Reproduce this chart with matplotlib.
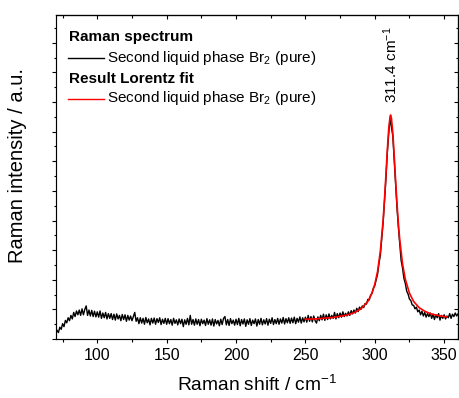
import matplotlib
matplotlib.use("Agg")
import matplotlib.pyplot as plt
from matplotlib.ticker import MultipleLocator, NullFormatter
import numpy as np

plt.rcParams["font.family"] = ["Liberation Sans", "DejaVu Sans"]
plt.rcParams["mathtext.default"] = "regular"

# measured Raman spectrum, one value per cm-1 from 70 to 360
shift_start = 70
spectrum = [
    0.15, 0.30, 0.22, 0.40, 0.33, 0.52, 0.42, 0.63, 0.55, 0.72,
    0.62, 0.80, 0.68, 0.90, 0.76, 0.95, 0.82, 0.98, 0.80, 1.02,
    0.82, 1.00, 1.12, 0.80, 0.98, 0.78, 0.97, 0.76, 0.94, 0.75,
    0.92, 0.74, 0.95, 0.70, 0.88, 0.72, 0.90, 0.68, 0.86, 0.70,
    0.86, 0.66, 0.84, 0.64, 0.85, 0.68, 0.80, 0.62, 0.83, 0.66,
    0.82, 0.60, 0.80, 0.64, 0.78, 0.62, 0.76, 0.90, 0.60, 0.72,
    0.52, 0.72, 0.54, 0.70, 0.50, 0.73, 0.55, 0.68, 0.48, 0.70,
    0.54, 0.71, 0.50, 0.69, 0.56, 0.72, 0.49, 0.67, 0.53, 0.70,
    0.50, 0.69, 0.52, 0.66, 0.47, 0.70, 0.53, 0.65, 0.48, 0.68,
    0.52, 0.67, 0.42, 0.65, 0.50, 0.70, 0.48, 0.80, 0.50, 0.66,
    0.47, 0.68, 0.50, 0.66, 0.45, 0.67, 0.52, 0.64, 0.46, 0.69,
    0.50, 0.65, 0.47, 0.68, 0.44, 0.66, 0.51, 0.63, 0.45, 0.67,
    0.49, 0.70, 0.76, 0.48, 0.66, 0.46, 0.69, 0.52, 0.64, 0.47,
    0.67, 0.49, 0.70, 0.45, 0.66, 0.51, 0.68, 0.43, 0.65, 0.50,
    0.69, 0.46, 0.64, 0.52, 0.68, 0.44, 0.66, 0.50, 0.70, 0.48,
    0.65, 0.51, 0.69, 0.47, 0.67, 0.53, 0.72, 0.49, 0.66, 0.52,
    0.70, 0.50, 0.68, 0.54, 0.73, 0.51, 0.69, 0.55, 0.72, 0.53,
    0.71, 0.55, 0.74, 0.52, 0.70, 0.57, 0.75, 0.54, 0.72, 0.58,
    0.74, 0.57, 0.80, 0.60, 0.76, 0.58, 0.78, 0.62, 0.54, 0.75,
    0.62, 0.80, 0.65, 0.84, 0.63, 0.82, 0.66, 0.85, 0.68, 0.80,
    0.70, 0.90, 0.68, 0.86, 0.72, 0.88, 0.74, 0.92, 0.76, 0.87,
    0.78, 0.92, 0.80, 0.96, 0.85, 0.98, 0.88, 1.04, 0.93, 1.08,
    1.00, 1.12, 1.06, 1.20, 1.18, 1.34, 1.32, 1.48, 1.55, 1.72,
    1.80, 2.00, 2.18, 2.55, 2.82, 3.35, 3.92, 4.65, 5.38, 6.25,
    6.90, 7.45, 7.15, 6.85, 6.05, 5.30, 4.45, 3.78, 3.20, 2.65,
    2.40, 2.05, 1.88, 1.62, 1.52, 1.35, 1.30, 1.15, 1.14, 1.02,
    1.08, 0.92, 0.98, 0.82, 0.94, 0.78, 0.90, 0.74, 0.86, 0.76,
    0.88, 0.70, 0.84, 0.66, 0.82, 0.72, 0.86, 0.64, 0.80, 0.70,
    0.82, 0.68, 0.78, 0.72, 0.86, 0.70, 0.84, 0.76, 0.88, 0.78, 0.85,
]
shift = np.arange(shift_start, shift_start + len(spectrum))

# Lorentz fit curve
fit_shift = [250, 260, 270, 280, 285, 290, 295, 298, 300, 302, 304, 306, 307,
             308, 309, 310, 311, 311.4, 312, 313, 314, 315, 316, 317, 318, 320,
             322, 325, 328, 332, 336, 340, 345, 350, 352]
fit_value = [0.67, 0.69, 0.73, 0.81, 0.89, 1.02, 1.27, 1.55, 1.85, 2.28, 2.96,
             4.00, 4.70, 5.51, 6.35, 7.07, 7.50, 7.56, 7.45, 6.96, 6.20, 5.36,
             4.58, 3.90, 3.35, 2.54, 2.02, 1.55, 1.27, 1.06, 0.94, 0.86, 0.80,
             0.76, 0.75]

peak_pos = 311.4
peak_label = "311.4 cm$^{-1}$"
sample_label = "Second liquid phase Br$_2$ (pure)"

fig = plt.figure(figsize=(4.6, 3.98), dpi=100)
ax = fig.add_axes([0.121, 0.148, 0.8747, 0.814])

ax.plot(shift, spectrum, color="black", lw=1.0)
ax.plot(fit_shift, fit_value, color="#ff0000", lw=1.2)

ax.set_xlim(70, 360)
ax.set_ylim(0, 10.93)

ax.xaxis.set_major_locator(MultipleLocator(50))
ax.xaxis.set_minor_locator(MultipleLocator(25))
ax.yaxis.set_major_locator(MultipleLocator(1))
ax.yaxis.set_minor_locator(MultipleLocator(0.5))
ax.yaxis.set_major_formatter(NullFormatter())
ax.tick_params(which="major", direction="out", length=3.2, width=0.8, labelsize=11.5)
ax.tick_params(which="minor", direction="out", length=1.8, width=0.8)
for sp in ax.spines.values():
    sp.set_linewidth(0.85)

top = ax.secondary_xaxis("top")
top.xaxis.set_major_locator(MultipleLocator(50))
top.xaxis.set_minor_locator(MultipleLocator(25))
top.tick_params(which="major", direction="in", length=3.2, width=0.8, labeltop=False)
top.tick_params(which="minor", direction="in", length=1.8, width=0.8)
top.spines["top"].set_linewidth(0.85)

right = ax.secondary_yaxis("right")
right.yaxis.set_major_locator(MultipleLocator(1))
right.yaxis.set_minor_locator(MultipleLocator(0.5))
right.tick_params(which="major", direction="in", length=3.2, width=0.8, labelright=False)
right.tick_params(which="minor", direction="in", length=1.8, width=0.8)
right.spines["right"].set_linewidth(0.85)

ax.set_xlabel("Raman shift / cm$^{-1}$", fontsize=13.8)
ax.set_ylabel("Raman intensity / a.u.", fontsize=14.5)
ax.xaxis.set_label_coords(0.5, -0.112)
ax.yaxis.set_label_coords(-0.072, 0.535)

ax.text(peak_pos, 7.95, peak_label, rotation=90, ha="center", va="bottom", fontsize=11)

# legend drawn by hand (two titled sections)
ax.text(0.033, 0.931, "Raman spectrum", transform=ax.transAxes, fontsize=11,
        fontweight="bold", va="center")
ax.plot([0.031, 0.120], [0.867, 0.867], transform=ax.transAxes, color="black", lw=1.0)
ax.text(0.1275, 0.869, sample_label, transform=ax.transAxes, fontsize=11, va="center")
ax.text(0.033, 0.8015, "Result Lorentz fit", transform=ax.transAxes, fontsize=11,
        fontweight="bold", va="center")
ax.plot([0.031, 0.120], [0.742, 0.742], transform=ax.transAxes, color="#ff0000", lw=1.0)
ax.text(0.1275, 0.744, sample_label, transform=ax.transAxes, fontsize=11, va="center")

fig.savefig("out.png", dpi=100)
